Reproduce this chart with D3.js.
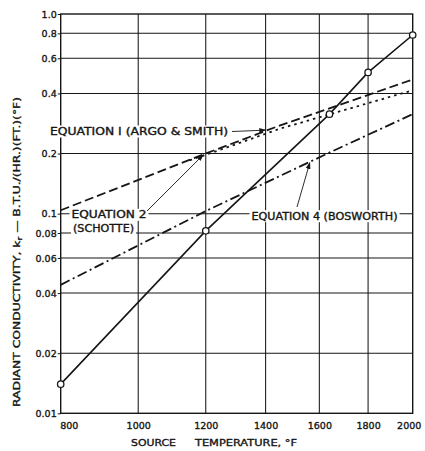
<!DOCTYPE html>
<html>
<head>
<meta charset="utf-8">
<script src="https://cdn.jsdelivr.net/npm/d3@7"></script>
<style>
  body { margin: 0; background: #fff; }
  svg { display: block; }
</style>
</head>
<body>
<svg id="chart" width="425" height="451"></svg>
<script>
// Source temperature ticks (°F) and conductivity ticks
const tempTicks = [800, 1000, 1200, 1400, 1600, 1800, 2000];
const kTicks = [0.01, 0.02, 0.04, 0.06, 0.08, 0.1, 0.2, 0.4, 0.6, 0.8, 1.0];
const kTickLabels = ["0.01", "0.02", "0.04", "0.06", "0.08", "0.1", "0.2", "0.4", "0.6", "0.8", "1.0"];

// Measured radiant conductivity (open circles, solid line)
const measuredTemp = [800, 1200, 1640, 1800, 2000];
const measuredK = [0.014, 0.082, 0.315, 0.51, 0.785];

// Equation 1 (Argo & Smith)
const eq1Temp = [800, 1200, 1450, 2000];
const eq1K = [0.104, 0.2, 0.276, 0.47];

// Equation 2 (Schotte)
const eq2Temp = [1150, 1200, 1450, 2000];
const eq2K = [0.185, 0.197, 0.266, 0.415];

// Equation 4 (Bosworth)
const eq4Temp = [800, 1200, 1650, 2000];
const eq4K = [0.044, 0.103, 0.205, 0.315];

const FONT = "DejaVu Sans, sans-serif";
const INK = "#161616";
const RANKINE = 460; // °F -> °R offset; the temperature axis is logarithmic in absolute temperature

const svg = d3.select("#chart");
const plot = { left: 60.7, right: 412.7, top: 14, bottom: 413.3 };

const xR = d3.scaleLog().domain([800 + RANKINE, 2000 + RANKINE]).range([plot.left, plot.right]);
const X = t => xR(t + RANKINE);
const y = d3.scaleLog().domain([0.01, 1]).range([plot.bottom, plot.top]);

// arrowhead for the leader lines
svg.append("defs").append("marker")
  .attr("id", "arrow")
  .attr("viewBox", "0 0 10 10")
  .attr("refX", 9).attr("refY", 5)
  .attr("markerWidth", 7).attr("markerHeight", 7)
  .attr("markerUnits", "userSpaceOnUse")
  .attr("orient", "auto")
  .append("path").attr("d", "M0,1.5 L10,5 L0,8.5 Z").attr("fill", INK);

// grid
const grid = svg.append("g").attr("stroke", INK).attr("stroke-width", 1.05);
grid.selectAll("line.v")
  .data(tempTicks.slice(1, -1))
  .join("line")
  .attr("x1", d => X(d)).attr("x2", d => X(d))
  .attr("y1", plot.top).attr("y2", plot.bottom);
grid.selectAll("line.h")
  .data(kTicks.slice(1, -1))
  .join("line")
  .attr("x1", plot.left).attr("x2", plot.right)
  .attr("y1", d => y(d)).attr("y2", d => y(d));

// frame
svg.append("rect")
  .attr("x", plot.left).attr("y", plot.top)
  .attr("width", plot.right - plot.left).attr("height", plot.bottom - plot.top)
  .attr("fill", "none").attr("stroke", INK).attr("stroke-width", 1.4);

// y axis labels
const yAxis = svg.append("g")
  .attr("transform", `translate(${plot.left},0)`)
  .call(d3.axisLeft(y).tickValues(kTicks).tickFormat((d, i) => kTickLabels[i]).tickSize(3).tickPadding(1));
yAxis.select(".domain").remove();
yAxis.selectAll("line").attr("stroke", INK).attr("stroke-width", 1);
yAxis.selectAll("text").attr("font-family", FONT).attr("font-size", 9.5).attr("fill", INK).attr("dy", "0.33em");

// x axis labels
const xAxis = svg.append("g")
  .attr("transform", `translate(0,${plot.bottom})`)
  .call(d3.axisBottom(xR).tickValues(tempTicks.map(t => t + RANKINE)).tickFormat(d => String(d - RANKINE)).tickSize(0).tickPadding(8.5));
xAxis.select(".domain").remove();
xAxis.selectAll("text")
  .attr("font-family", FONT).attr("font-size", 9.5).attr("fill", INK)
  .attr("dx", d => (d - RANKINE === 800 ? 8 : d - RANKINE === 2000 ? -4 : 0));

// axis titles
svg.append("text")
  .attr("x", 131).attr("y", 445.5)
  .attr("font-family", FONT).attr("font-size", 9.5).attr("fill", INK)
  .attr("textLength", 45).attr("lengthAdjust", "spacingAndGlyphs")
  .text("SOURCE");
svg.append("text")
  .attr("x", 195).attr("y", 445.5)
  .attr("font-family", FONT).attr("font-size", 9.5).attr("fill", INK)
  .attr("textLength", 102).attr("lengthAdjust", "spacingAndGlyphs")
  .text("TEMPERATURE, °F");

const yTitle = svg.append("text")
  .attr("transform", "translate(19.5,252) rotate(-90)")
  .attr("text-anchor", "middle")
  .attr("font-family", FONT).attr("font-size", 9.5).attr("fill", INK)
  .attr("textLength", 310).attr("lengthAdjust", "spacingAndGlyphs");
yTitle.append("tspan").text("RADIANT CONDUCTIVITY, k");
yTitle.append("tspan").attr("font-size", 7).attr("dy", 2.5).text("r");
yTitle.append("tspan").attr("dy", -2.5).text(" \u2014 B.T.U./(HR.)(FT.)(°F)");

// curve labels on white ground
function label(txt, x0, baseline, len) {
  const g = svg.append("g");
  const t = g.append("text")
    .attr("x", x0).attr("y", baseline)
    .attr("font-family", FONT).attr("font-size", 9.8).attr("fill", INK)
    .attr("textLength", len).attr("lengthAdjust", "spacingAndGlyphs")
    .text(txt);
  const b = t.node().getBBox();
  g.insert("rect", "text")
    .attr("x", b.x - 2).attr("y", b.y - 0.5)
    .attr("width", b.width + 4).attr("height", b.height + 1)
    .attr("fill", "#fff");
}
label("EQUATION I (ARGO & SMITH)", 50, 135, 178);
label("EQUATION 2", 71.5, 218.3, 75);
label("(SCHOTTE)", 73, 231.5, 61);
label("EQUATION 4 (BOSWORTH)", 251.5, 219.7, 146);

// hand-lettered look: slightly heavier strokes on all lettering
svg.selectAll("text").attr("stroke", INK).attr("stroke-width", 0.35);

// curves
const line = d3.line().x(d => X(d[0])).y(d => y(d[1]));
const series = [
  { t: eq1Temp, k: eq1K, dash: "9,4", w: 1.8 },
  { t: eq2Temp, k: eq2K, dash: "2.5,4", w: 1.8 },
  { t: eq4Temp, k: eq4K, dash: "10,3.5,2,3.5", w: 1.8 },
  { t: measuredTemp, k: measuredK, dash: null, w: 1.6 }
];
svg.append("g").selectAll("path")
  .data(series)
  .join("path")
  .attr("d", s => line(d3.zip(s.t, s.k)))
  .attr("fill", "none")
  .attr("stroke", INK)
  .attr("stroke-width", s => s.w)
  .attr("stroke-dasharray", s => s.dash);

svg.append("g").selectAll("circle")
  .data(d3.zip(measuredTemp, measuredK))
  .join("circle")
  .attr("cx", d => X(d[0])).attr("cy", d => y(d[1]))
  .attr("r", 3.2)
  .attr("fill", "#fff").attr("stroke", INK).attr("stroke-width", 1.3);

// leader lines from labels to curves
const leaders = [
  { from: [232, 131.5], to: [X(1400), y(0.262)] },
  { from: [147, 211], to: [X(1192), y(0.197)] },
  { from: [297, 207], to: [X(1563), y(0.18)] }
];
svg.append("g").selectAll("line")
  .data(leaders)
  .join("line")
  .attr("x1", d => d.from[0]).attr("y1", d => d.from[1])
  .attr("x2", d => d.to[0]).attr("y2", d => d.to[1])
  .attr("stroke", INK).attr("stroke-width", 0.9)
  .attr("marker-end", "url(#arrow)");
</script>
</body>
</html>
